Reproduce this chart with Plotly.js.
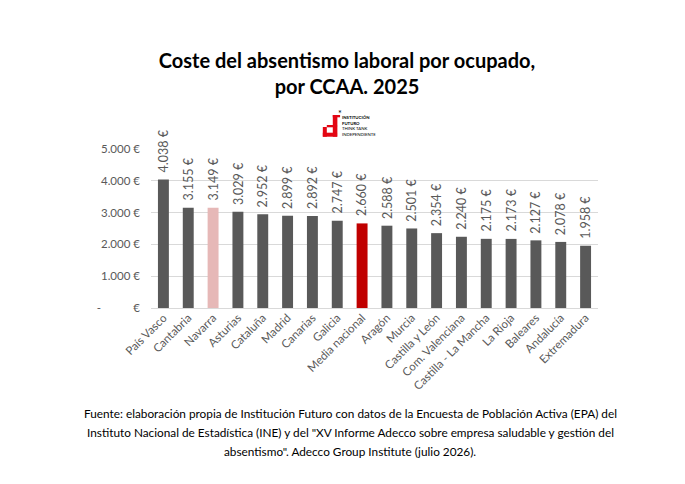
<!DOCTYPE html>
<html>
<head>
<meta charset="utf-8">
<script src="https://cdn.plot.ly/plotly-3.0.1.min.js"></script>
<style>html,body{margin:0;padding:0;background:#fff;}#chart{width:685px;height:484px;}</style>
</head>
<body>
<div id="chart"></div>
<script>
var regions = ["País Vasco","Cantabria","Navarra","Asturias","Cataluña","Madrid","Canarias","Galicia","Media nacional","Aragón","Murcia","Castilla y León","Com. Valenciana","Castilla - La Mancha","La Rioja","Baleares","Andalucía","Extremadura"];
var costs = [4038,3155,3149,3029,2952,2899,2892,2747,2660,2588,2501,2354,2240,2175,2173,2127,2078,1958];
var costLabels = ["4.038 €","3.155 €","3.149 €","3.029 €","2.952 €","2.899 €","2.892 €","2.747 €","2.660 €","2.588 €","2.501 €","2.354 €","2.240 €","2.175 €","2.173 €","2.127 €","2.078 €","1.958 €"];
var yTickVals = [0,1000,2000,3000,4000,5000];
var yTickText = ["-\u00A0\u00A0\u00A0\u00A0\u00A0\u00A0\u00A0\u00A0\u00A0\u00A0\u00A0€","1.000 €","2.000 €","3.000 €","4.000 €","5.000 €"];
var footerLines = [
  "Fuente: elaboración propia de Institución Futuro con datos de la Encuesta de Población Activa (EPA) del",
  "Instituto Nacional de Estadística (INE) y del \"XV Informe Adecco sobre empresa saludable y gestión del",
  "absentismo\". Adecco Group Institute (julio 2026)."
];

var W = 685, H = 484, ML = 150.5, MR = 86.5, MT = 149, MB = 176;
function px(x){ return (x - ML) / (W - ML - MR); }
function py(y){ return (H - MB - y) / (H - MT - MB); }

var colors = regions.map(function(r){
  if (r === "Navarra") return "#e6b8b7";
  if (r === "Media nacional") return "#c00000";
  return "#595959";
});

var font = "Lato, 'Open Sans', sans-serif";

var trace = {
  type: "bar",
  x: regions,
  y: costs,
  cliponaxis: false,
  marker: {color: colors},
  hoverinfo: "x+y"
};

var annotations = [
  {text:"*", xref:"paper", yref:"paper", x:px(340), y:py(106), showarrow:false, font:{family:font, size:9, color:"#000"}},
  {text:"<b>INSTITUCIÓN</b><br><b>FUTURO</b><br>THINK TANK<br>INDEPENDIENTE", xref:"paper", yref:"paper", x:px(340), y:py(126), xanchor:"left", yanchor:"middle", align:"left", showarrow:false, font:{family:font, size:4.3, color:"#000"}}
];
regions.forEach(function(r, i){
  annotations.push({text: costLabels[i], xref:"x", yref:"y", x: r, y: costs[i], xanchor:"center", yanchor:"bottom",
    textangle: -90, yshift: 5, showarrow:false, font:{family:font, size:12.5, color:"#595959"}});
});
var footerY = [413, 432, 451];
footerLines.forEach(function(t, i){
  annotations.push({text:t, xref:"paper", yref:"paper", x:px(350), y:py(footerY[i]), xanchor:"center", yanchor:"middle", showarrow:false,
    font:{family:font, size:11.8, color:"#000"}});
});

var layout = {
  width: W, height: H,
  margin: {l: ML, r: MR, t: MT, b: MB},
  paper_bgcolor: "#fff", plot_bgcolor: "#fff",
  showlegend: false,
  bargap: 0.56,
  title: {
    text: "Coste del absentismo laboral por ocupado,<br>por CCAA. 2025",
    font: {family: font, size: 20, weight: 700, color: "#000"},
    x: 347 / W, xanchor: "center",
    y: 1 - 68 / H, yanchor: "middle",
    xref: "container", yref: "container"
  },
  xaxis: {
    type: "category",
    tickangle: -45,
    tickfont: {family: font, size: 11.5, color: "#595959"},
    showgrid: false, showline: false, ticks: "",
    automargin: false
  },
  yaxis: {
    range: [0, 5000],
    tickvals: yTickVals, ticktext: yTickText,
    tickfont: {family: font, size: 11.5, color: "#595959"},
    showgrid: true, gridcolor: "#d9d9d9", gridwidth: 1,
    zeroline: true, zerolinecolor: "#d9d9d9", zerolinewidth: 1,
    showline: false, ticks: "", ticklabelstandoff: 10,
    automargin: false
  },
  shapes: [
    {type:"rect", xref:"paper", yref:"paper", x0:px(332.7), x1:px(337.3), y0:py(136.7), y1:py(115), fillcolor:"#e30613", line:{width:0}},
    {type:"rect", xref:"paper", yref:"paper", x0:px(332.7), x1:px(340), y0:py(117.3), y1:py(115), fillcolor:"#e30613", line:{width:0}},
    {type:"rect", xref:"paper", yref:"paper", x0:px(326.7), x1:px(337), y0:py(127.3), y1:py(125), fillcolor:"#e30613", line:{width:0}},
    {type:"rect", xref:"paper", yref:"paper", x0:px(322.7), x1:px(337), y0:py(136.7), y1:py(132.7), fillcolor:"#e30613", line:{width:0}},
    {type:"rect", xref:"paper", yref:"paper", x0:px(322.7), x1:px(326.7), y0:py(136.7), y1:py(127), fillcolor:"#e30613", line:{width:0}}
  ],
  annotations: annotations
};

Plotly.newPlot("chart", [trace], layout, {displayModeBar:false, staticPlot:true});
</script>
</body>
</html>
